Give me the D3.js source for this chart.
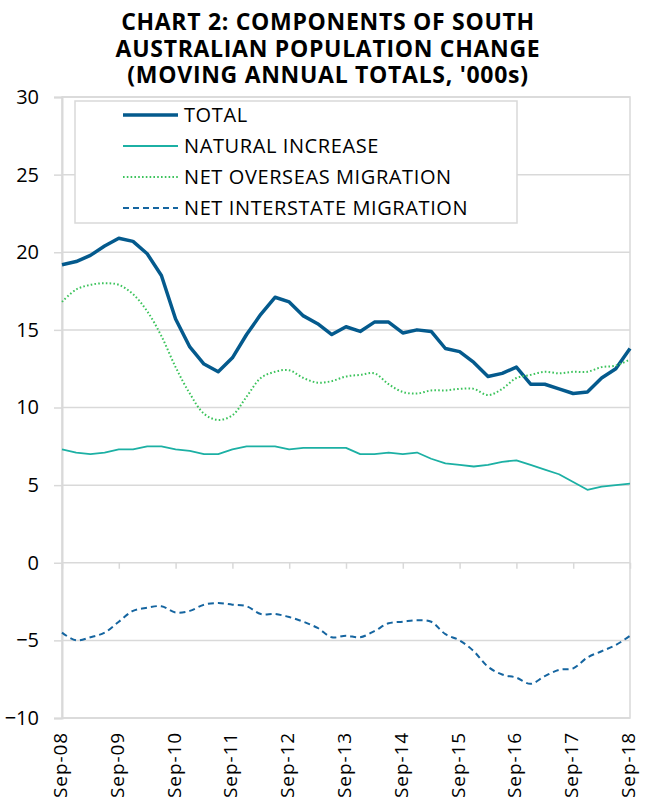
<!DOCTYPE html>
<html>
<head>
<meta charset="utf-8">
<script src="https://cdn.jsdelivr.net/npm/d3@7"></script>
<style>
  body { margin: 0; background: #fff; }
  svg { font-family: 'Open Sans', sans-serif; }
</style>
</head>
<body>
<svg id="chart"></svg>
<script>
// quarterly periods, Sep-08 to Sep-18
const quarters = [
  'Sep-08', 'Dec-08', 'Mar-09', 'Jun-09', 'Sep-09', 'Dec-09', 'Mar-10', 'Jun-10',
  'Sep-10', 'Dec-10', 'Mar-11', 'Jun-11', 'Sep-11', 'Dec-11', 'Mar-12', 'Jun-12',
  'Sep-12', 'Dec-12', 'Mar-13', 'Jun-13', 'Sep-13', 'Dec-13', 'Mar-14', 'Jun-14',
  'Sep-14', 'Dec-14', 'Mar-15', 'Jun-15', 'Sep-15', 'Dec-15', 'Mar-16', 'Jun-16',
  'Sep-16', 'Dec-16', 'Mar-17', 'Jun-17', 'Sep-17', 'Dec-17', 'Mar-18', 'Jun-18',
  'Sep-18'
];
const xTickLabels = ['Sep-08', 'Sep-09', 'Sep-10', 'Sep-11', 'Sep-12', 'Sep-13',
  'Sep-14', 'Sep-15', 'Sep-16', 'Sep-17', 'Sep-18'];
const yTicks = [-10, -5, 0, 5, 10, 15, 20, 25, 30];

const total = [
  19.2, 19.4, 19.8, 20.4, 20.9, 20.7, 19.9, 18.5, 15.7, 13.9, 12.8, 12.3, 13.2,
  14.7, 16.0, 17.1, 16.8, 15.9, 15.4, 14.7, 15.2, 14.9, 15.5, 15.5, 14.8, 15.0,
  14.9, 13.8, 13.6, 12.9, 12.0, 12.2, 12.6, 11.5, 11.5, 11.2, 10.9, 11.0, 11.9,
  12.5, 13.8
];
const naturalIncrease = [
  7.3, 7.1, 7.0, 7.1, 7.3, 7.3, 7.5, 7.5, 7.3, 7.2, 7.0, 7.0, 7.3, 7.5, 7.5,
  7.5, 7.3, 7.4, 7.4, 7.4, 7.4, 7.0, 7.0, 7.1, 7.0, 7.1, 6.7, 6.4, 6.3, 6.2,
  6.3, 6.5, 6.6, 6.3, 6.0, 5.7, 5.2, 4.7, 4.9, 5.0, 5.1
];
const netOverseas = [
  16.8, 17.6, 17.9, 18.0, 17.9, 17.3, 16.2, 14.6, 12.6, 10.9, 9.6, 9.2, 9.5,
  10.7, 11.9, 12.3, 12.4, 11.9, 11.6, 11.7, 12.0, 12.1, 12.2, 11.5, 11.0, 10.9,
  11.1, 11.1, 11.2, 11.2, 10.8, 11.2, 11.9, 12.1, 12.3, 12.2, 12.3, 12.3, 12.6,
  12.7, 13.1
];
const netInterstate = [
  -4.5, -5.0, -4.8, -4.5, -3.8, -3.1, -2.9, -2.8, -3.2, -3.1, -2.7, -2.6, -2.7,
  -2.8, -3.3, -3.3, -3.5, -3.8, -4.2, -4.8, -4.7, -4.8, -4.4, -3.9, -3.8, -3.7,
  -3.8, -4.6, -5.0, -5.7, -6.7, -7.2, -7.4, -7.8, -7.3, -6.9, -6.8, -6.1, -5.7,
  -5.3, -4.7
];

const series = [
  { name: 'TOTAL', values: total, color: '#045a8d', width: 3.5, dash: null, curve: d3.curveLinear },
  { name: 'NATURAL INCREASE', values: naturalIncrease, color: '#1cb0a4', width: 1.8, dash: null, curve: d3.curveLinear },
  { name: 'NET OVERSEAS MIGRATION', values: netOverseas, color: '#3cc35c', width: 2, dash: '1.6,2.2', curve: d3.curveCatmullRom },
  { name: 'NET INTERSTATE MIGRATION', values: netInterstate, color: '#1565a0', width: 2, dash: '6,4', curve: d3.curveCatmullRom }
];

const W = 654, H = 803;
const margin = { top: 97, right: 24, bottom: 85, left: 62 };
const width = W - margin.left - margin.right;
const height = H - margin.top - margin.bottom;
const gridColor = '#d9d9d9';

const svg = d3.select('#chart').
  attr('width', W).
  attr('height', H);

// title
const title = svg.append('text').
  attr('text-anchor', 'middle').
  attr('font-weight', 'bold').
  attr('font-size', 23).
  attr('letter-spacing', 0.7).
  attr('fill', '#000');
['CHART 2: COMPONENTS OF SOUTH', 'AUSTRALIAN POPULATION CHANGE', "(MOVING ANNUAL TOTALS, '000s)"].
  forEach((t, i) => {
    title.append('tspan').attr('x', 328).attr('y', 30 + i * 26.6).text(t);
  });

const g = svg.append('g').
  attr('transform', `translate(${margin.left}, ${margin.top})`);

const x = d3.scalePoint().
  domain(quarters).
  range([0, width]);

const y = d3.scaleLinear().
  domain([-10, 30]).
  range([height, 0]);

// gridlines
g.append('g').
  selectAll('line').
  data(yTicks).
  enter().append('line').
  attr('x1', 0).
  attr('x2', width).
  attr('y1', d => y(d)).
  attr('y2', d => y(d)).
  attr('stroke', gridColor).
  attr('stroke-width', 1.5);

// plot border
g.append('rect').
  attr('width', width).
  attr('height', height).
  attr('fill', 'none').
  attr('stroke', gridColor).
  attr('stroke-width', 1.5);

// y axis
const yAxis = d3.axisLeft(y).
  tickValues(yTicks).
  tickSize(8).
  tickPadding(15);
const yG = g.append('g').call(yAxis);
yG.select('.domain').attr('stroke', gridColor).attr('stroke-width', 2);
yG.selectAll('.tick line').attr('stroke', gridColor).attr('stroke-width', 1.5);
yG.selectAll('text').
  attr('font-size', 20).
  attr('font-family', 'Open Sans').
  attr('fill', '#000');

// x axis at zero, ticks down
const xAxis = d3.axisBottom(x).
  tickValues(xTickLabels).
  tickSize(6).
  tickFormat('');
const xG = g.append('g').
  attr('transform', `translate(0, ${y(0)})`).
  call(xAxis);
xG.select('.domain').remove();
xG.selectAll('.tick line').attr('stroke', gridColor).attr('stroke-width', 1.5);

// x labels under the plot, rotated
g.append('g').
  selectAll('text').
  data(xTickLabels).
  enter().append('text').
  attr('transform', d => `translate(${x(d) + 5}, ${height + 14}) rotate(-90)`).
  attr('text-anchor', 'end').
  attr('font-size', 19).
  attr('letter-spacing', 0.9).
  attr('fill', '#000').
  text(d => d);

// lines
series.forEach(s => {
  const line = d3.line().
    x((d, i) => x(quarters[i])).
    y(d => y(d)).
    curve(s.curve);
  g.append('path').
    datum(s.values).
    attr('d', line).
    attr('fill', 'none').
    attr('stroke', s.color).
    attr('stroke-width', s.width).
    attr('stroke-dasharray', s.dash).
    attr('stroke-linejoin', 'round');
});

// legend
const legend = svg.append('g').attr('transform', 'translate(75, 101)');
legend.append('rect').
  attr('width', 442).
  attr('height', 122).
  attr('fill', '#fff').
  attr('stroke', gridColor).
  attr('stroke-width', 1.5);
series.forEach((s, i) => {
  const ly = 14 + i * 31;
  legend.append('line').
    attr('x1', 48).
    attr('x2', 103).
    attr('y1', ly).
    attr('y2', ly).
    attr('stroke', s.color).
    attr('stroke-width', s.width).
    attr('stroke-dasharray', s.dash);
  legend.append('text').
    attr('x', 109).
    attr('y', ly).
    attr('dy', '0.35em').
    attr('font-size', 20).
    attr('letter-spacing', 0.6).
    attr('fill', '#000').
    text(s.name);
});
</script>
</body>
</html>
